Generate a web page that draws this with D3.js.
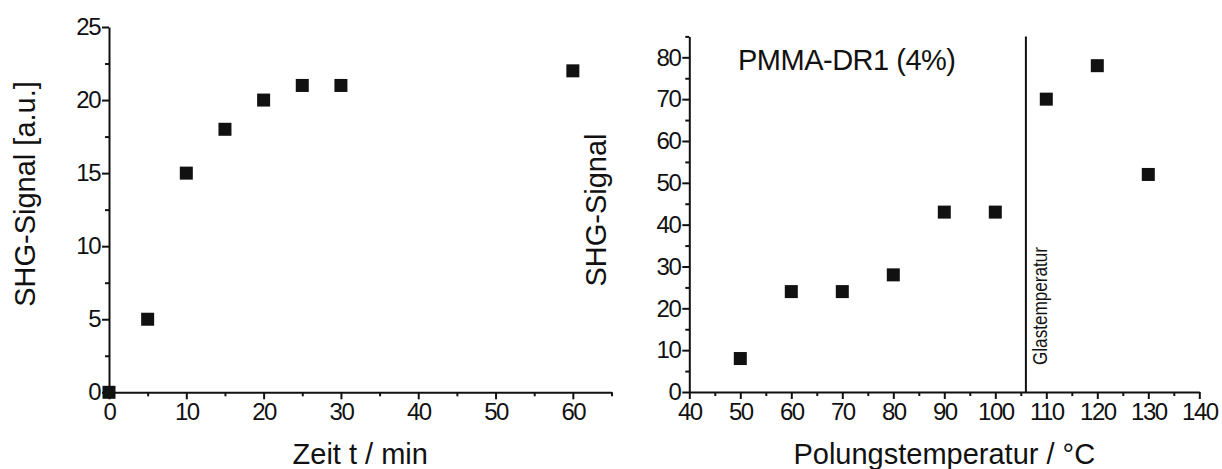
<!DOCTYPE html>
<html>
<head>
<meta charset="utf-8">
<script src="https://cdn.jsdelivr.net/npm/d3@7"></script>
<style>
  html, body { margin: 0; padding: 0; background: #fff; }
  svg { display: block; font-family: "Liberation Sans", Arial, sans-serif; }
</style>
</head>
<body>
<svg id="chart" width="1222" height="469"></svg>
<script>
// ---- Data ----
const timeMin = [0, 5, 10, 15, 20, 25, 30, 60];
const signalTime = [0, 5, 15, 18, 20, 21, 21, 22];

const poleTemp = [50, 60, 70, 80, 90, 100, 110, 120, 130];
const signalTemp = [8, 24, 24, 28, 43, 43, 70, 78, 52];

const glassTemp = 106;

const leftXTicks = [0, 10, 20, 30, 40, 50, 60];
const leftXMinor = [5, 15, 25, 35, 45, 55, 65];
const leftYTicks = [0, 5, 10, 15, 20, 25];
const leftYMinor = [2.5, 7.5, 12.5, 17.5, 22.5];

const rightXTicks = [40, 50, 60, 70, 80, 90, 100, 110, 120, 130, 140];
const rightXMinor = [45, 55, 65, 75, 85, 95, 105, 115, 125, 135];
const rightYTicks = [0, 10, 20, 30, 40, 50, 60, 70, 80];
const rightYMinor = [5, 15, 25, 35, 45, 55, 65, 75, 85];

const leftXTitle = "Zeit t / min";
const leftYTitle = "SHG-Signal [a.u.]";
const rightXTitle = "Polungstemperatur / °C";
const rightYTitle = "SHG-Signal";
const sampleLabel = "PMMA-DR1 (4%)";
const glassLabel = "Glastemperatur";

// ---- Drawing ----
const svg = d3.select("#chart");
const ink = "#111";

function styleAxis(g) {
  g.selectAll("path.domain").attr("stroke", ink).attr("stroke-width", 2);
  g.selectAll(".tick line").attr("stroke", ink).attr("stroke-width", 2);
  g.selectAll(".tick text")
    .attr("fill", ink)
    .style("font-size", "24px")
    .style("letter-spacing", "-1.5px")
    .style("font-family", "'Liberation Sans', Arial, sans-serif");
}

function drawPanel(opts) {
  const x = d3.scaleLinear().domain(opts.xDomain).range(opts.xRange);
  const y = d3.scaleLinear().domain(opts.yDomain).range(opts.yRange);
  const g = svg.append("g");

  // minor ticks
  g.append("g")
    .attr("transform", `translate(0,${opts.yRange[0]})`)
    .call(d3.axisBottom(x).tickValues(opts.xMinor).tickSize(4).tickFormat(""))
    .call(styleAxis)
    .call(a => a.select(".domain").remove());
  g.append("g")
    .attr("transform", `translate(${opts.xRange[0]},0)`)
    .call(d3.axisLeft(y).tickValues(opts.yMinor).tickSize(4).tickFormat(""))
    .call(styleAxis)
    .call(a => a.select(".domain").remove());

  // major axes
  g.append("g")
    .attr("transform", `translate(0,${opts.yRange[0]})`)
    .call(d3.axisBottom(x).tickValues(opts.xTicks).tickSize(7).tickSizeOuter(0).tickPadding(4).tickFormat(d3.format("d")))
    .call(styleAxis);
  g.append("g")
    .attr("transform", `translate(${opts.xRange[0]},0)`)
    .call(d3.axisLeft(y).tickValues(opts.yTicks).tickSize(7).tickSizeOuter(0).tickPadding(2).tickFormat(d3.format("d")))
    .call(styleAxis);

  // points
  const sz = 13;
  g.append("g").selectAll("rect")
    .data(opts.xs.map((d, i) => [d, opts.ys[i]]))
    .join("rect")
    .attr("x", d => x(d[0]) - sz / 2)
    .attr("y", d => y(d[1]) - sz / 2)
    .attr("width", sz)
    .attr("height", sz)
    .attr("fill", ink);

  // titles
  g.append("text")
    .attr("x", (opts.xRange[0] + opts.xRange[1]) / 2)
    .attr("y", 464)
    .attr("text-anchor", "middle")
    .attr("fill", ink)
    .style("font-size", "29px")
    .text(opts.xTitle);
  g.append("text")
    .attr("transform", `translate(${opts.yTitleX},${opts.yTitleY}) rotate(-90)`)
    .attr("text-anchor", "middle")
    .attr("fill", ink)
    .style("font-size", "29px")
    .text(opts.yTitle);

  return { x, y, g };
}

drawPanel({
  xDomain: [0, 65], xRange: [109, 611.5],
  yDomain: [0, 25], yRange: [392.3, 27],
  xTicks: leftXTicks, xMinor: leftXMinor,
  yTicks: leftYTicks, yMinor: leftYMinor,
  xs: timeMin, ys: signalTime,
  xTitle: leftXTitle, yTitle: leftYTitle,
  yTitleX: 35, yTitleY: 194
});

const right = drawPanel({
  xDomain: [40, 140], xRange: [689.3, 1199.3],
  yDomain: [0, 85], yRange: [392, 36.4],
  xTicks: rightXTicks, xMinor: rightXMinor,
  yTicks: rightYTicks, yMinor: rightYMinor,
  xs: poleTemp, ys: signalTemp,
  xTitle: rightXTitle, yTitle: rightYTitle,
  yTitleX: 606, yTitleY: 210
});

// glass transition line
right.g.append("line")
  .attr("x1", right.x(glassTemp)).attr("x2", right.x(glassTemp))
  .attr("y1", right.y(85)).attr("y2", right.y(0))
  .attr("stroke", ink).attr("stroke-width", 2);

right.g.append("text")
  .attr("transform", `translate(${right.x(glassTemp) + 21},365) rotate(-90)`)
  .attr("text-anchor", "start")
  .attr("fill", ink)
  .attr("textLength", 118)
  .attr("lengthAdjust", "spacingAndGlyphs")
  .style("font-size", "21px")
  .text(glassLabel);

right.g.append("text")
  .attr("x", 738)
  .attr("y", 70)
  .attr("fill", ink)
  .style("font-size", "29px")
  .style("letter-spacing", "-0.5px")
  .text(sampleLabel);
</script>
</body>
</html>
